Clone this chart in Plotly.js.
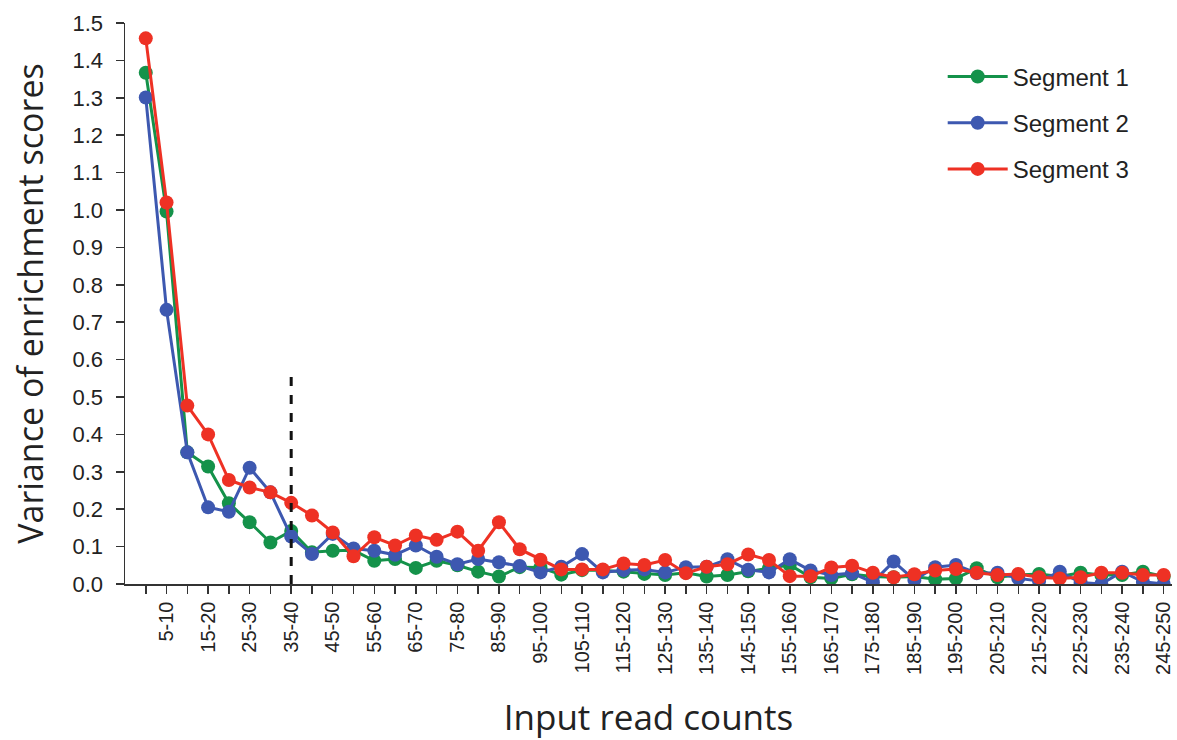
<!DOCTYPE html>
<html>
<head>
<meta charset="utf-8">
<script src="https://cdn.plot.ly/plotly-3.0.1.min.js"></script>
<style>html,body{margin:0;padding:0;background:#fff;}#chart{width:1177px;height:740px;}</style>
</head>
<body>
<div id="chart"></div>
<script>
const categories = ["0-5","5-10","10-15","15-20","20-25","25-30","30-35","35-40","40-45","45-50",
"50-55","55-60","60-65","65-70","70-75","75-80","80-85","85-90","90-95","95-100",
"100-105","105-110","110-115","115-120","120-125","125-130","130-135","135-140","140-145","145-150",
"150-155","155-160","160-165","165-170","170-175","175-180","180-185","185-190","190-195","195-200",
"200-205","205-210","210-215","215-220","220-225","225-230","230-235","235-240","240-245","245-250"];

const tickLabels = categories.map((c, i) => (i % 2 === 1 ? c : ""));

const segment1 = [1.367,0.996,0.352,0.314,0.216,0.165,0.111,0.142,0.085,0.089,
0.09,0.062,0.067,0.043,0.062,0.05,0.033,0.02,0.045,0.044,
0.025,0.037,0.037,0.033,0.027,0.024,0.03,0.02,0.024,0.034,
0.042,0.051,0.018,0.015,0.026,0.02,0.018,0.02,0.013,0.015,
0.042,0.018,0.024,0.027,0.02,0.03,0.024,0.024,0.033,0.02];

const segment2 = [1.301,0.733,0.352,0.205,0.193,0.311,0.245,0.127,0.08,0.134,
0.095,0.089,0.078,0.103,0.073,0.053,0.067,0.058,0.048,0.031,
0.046,0.08,0.031,0.037,0.039,0.031,0.045,0.046,0.066,0.038,
0.031,0.066,0.036,0.024,0.029,0.005,0.06,0.011,0.045,0.051,
0.029,0.03,0.015,0.008,0.033,0.004,0.0,0.033,0.006,0.0];

const segment3 = [1.459,1.02,0.477,0.40,0.278,0.258,0.245,0.217,0.183,0.138,
0.074,0.125,0.103,0.13,0.118,0.14,0.089,0.165,0.093,0.065,
0.039,0.039,0.039,0.055,0.051,0.064,0.029,0.046,0.053,0.079,
0.064,0.021,0.021,0.044,0.049,0.03,0.018,0.026,0.036,0.04,
0.03,0.024,0.027,0.018,0.015,0.018,0.03,0.03,0.024,0.024];

const seriesNames = ["Segment 1","Segment 2","Segment 3"];
const seriesColors = ["#14924a","#3d58b0","#ee3124"];
const thresholdCategory = "35-40";
const thresholdTop = 0.56;

const data = [segment1, segment2, segment3].map((ys, k) => ({
  type: "scatter",
  mode: "lines+markers",
  x: categories,
  y: ys,
  name: seriesNames[k],
  legendgroup: "g" + k,
  line: {color: seriesColors[k], width: 3},
  marker: {color: seriesColors[k], size: 14}
}));

const layout = {
  width: 1177,
  height: 740,
  margin: {l: 125, r: 5, t: 23, b: 156},
  paper_bgcolor: "#fff",
  plot_bgcolor: "#fff",
  showlegend: true,
  legend: {
    x: 0.781, y: 0.944, xanchor: "left", yanchor: "top",
    itemwidth: 60,
    font: {family: "Liberation Sans, Arial, sans-serif", size: 24, color: "#222"},
    tracegroupgap: 12,
    bgcolor: "rgba(0,0,0,0)"
  },
  xaxis: {
    type: "category",
    categoryorder: "array",
    categoryarray: categories,
    range: [-1, 49.4],
    tickmode: "array",
    tickvals: categories,
    ticktext: tickLabels,
    tickangle: -90,
    ticks: "outside",
    ticklen: 8,
    tickwidth: 1.5,
    tickcolor: "#333",
    showline: true,
    linecolor: "#333",
    linewidth: 1.5,
    showgrid: false,
    zeroline: false,
    tickfont: {family: "Liberation Sans, Arial, sans-serif", size: 20, color: "#222"},
    title: {text: "Input read counts", font: {family: "Open Sans, Noto Sans, sans-serif", size: 35, color: "#222"}, standoff: 31}
  },
  yaxis: {
    range: [0, 1.5],
    tickmode: "linear",
    tick0: 0,
    dtick: 0.1,
    tickformat: ".1f",
    ticks: "outside",
    ticklen: 8,
    tickwidth: 1.5,
    tickcolor: "#333",
    showline: true,
    linecolor: "#333",
    linewidth: 1.5,
    showgrid: false,
    zeroline: false,
    ticklabelstandoff: 8,
    tickfont: {family: "Liberation Sans, Arial, sans-serif", size: 22, color: "#222"},
    title: {text: "Variance of enrichment scores", font: {family: "Open Sans, Noto Sans, sans-serif", size: 34, color: "#222"}, standoff: 18}
  },
  shapes: [{
    type: "line", xref: "x", yref: "y",
    x0: thresholdCategory, x1: thresholdCategory, y0: 0, y1: thresholdTop,
    line: {color: "#111", width: 3, dash: "dash"}
  }]
};

Plotly.newPlot("chart", data, layout, {staticPlot: true, displayModeBar: false});
</script>
</body>
</html>
